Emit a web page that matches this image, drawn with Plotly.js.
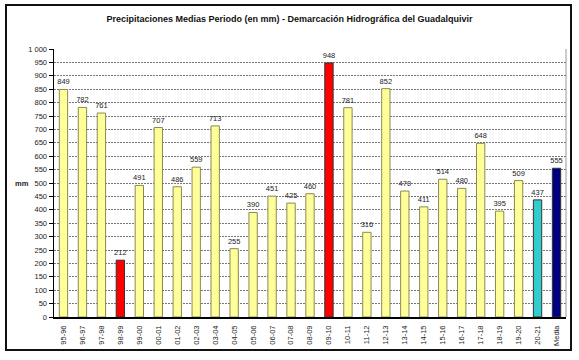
<!DOCTYPE html>
<html>
<head>
<meta charset="utf-8">
<script src="https://cdn.plot.ly/plotly-3.0.1.min.js"></script>
<style>
html,body{margin:0;padding:0;background:#fff;}
#chart{width:579px;height:360px;}
</style>
</head>
<body>
<div id="chart"></div>
<script>
const categories = ["95-96","96-97","97-98","98-99","99-00","00-01","01-02","02-03","03-04","04-05","05-06","06-07","07-08","08-09","09-10","10-11","11-12","12-13","13-14","14-15","15-16","16-17","17-18","18-19","19-20","20-21","Media"];
const values = [849,782,761,212,491,707,486,559,713,255,390,451,425,460,948,781,316,852,470,411,514,480,648,395,509,437,555];
const yTicks = [0,50,100,150,200,250,300,350,400,450,500,550,600,650,700,750,800,850,900,950,1000];

const fills = categories.map((c,i) => {
  if (c === "Media") return "#000080";
  if (c === "20-21") return "#33CCCC";
  if (values[i] === Math.min(...values.slice(0,25)) || values[i] === Math.max(...values.slice(0,25))) return "#FF0000";
  return "#FFFF99";
});
const outlines = fills.map(f => f === "#FFFF99" ? "#8A8A50" : "#333333");

const font = "Liberation Sans, Arial, sans-serif";
const L = 54, R = 566, T = 49, B = 317, W = 579, H = 360;
const px = x => (x - L) / (R - L);
const py = y => (B - y) / (B - T);

const trace = {
  type: "bar",
  x: categories,
  y: values,
  text: values.map(String),
  textposition: "outside",
  constraintext: "none",
  cliponaxis: false,
  textfont: {family: font, size: 7.5, color: "#222"},
  marker: {color: fills, line: {color: outlines, width: 1}},
  hoverinfo: "x+y"
};

const layout = {
  width: W, height: H,
  margin: {l: L, r: W - R, t: T, b: H - B, pad: 0},
  paper_bgcolor: "#fff",
  plot_bgcolor: "#fff",
  bargap: 0.56,
  showlegend: false,
  font: {family: font, size: 7.5, color: "#222"},
  title: {
    text: "<b>Precipitaciones Medias Periodo (en mm) - Demarcación Hidrográfica del Guadalquivir</b>",
    font: {family: font, size: 9, color: "#111"},
    x: 0.5, xanchor: "center", y: 1 - 19 / H, yanchor: "middle"
  },
  xaxis: {
    type: "category",
    tickangle: -90,
    tickfont: {family: font, size: 7.5, color: "#222"},
    showline: true, linecolor: "#000", linewidth: 1.5,
    ticks: "", showgrid: false, zeroline: false,
    ticklabelstandoff: 4
  },
  yaxis: {
    range: [0, 1000],
    tickvals: yTicks,
    ticktext: yTicks.map(v => v === 1000 ? "1 000" : String(v)),
    tickfont: {family: font, size: 7.5, color: "#222"},
    showline: true, linecolor: "#000", linewidth: 1.5,
    ticks: "outside", ticklen: 4, tickcolor: "#000",
    showgrid: true, gridcolor: "#777", griddash: "2px,1px", gridwidth: 1,
    zeroline: false
  },
  annotations: [{
    text: "<b>mm</b>", xref: "paper", yref: "paper",
    x: px(22), y: py(183), xanchor: "center", yanchor: "middle",
    showarrow: false, font: {family: font, size: 7.5, color: "#222"}
  }],
  shapes: [
    {type: "rect", xref: "paper", yref: "paper", x0: px(6), x1: px(571), y0: py(350), y1: py(5),
     line: {color: "#111", width: 2}, fillcolor: "rgba(0,0,0,0)", layer: "above"},
    {type: "line", xref: "paper", yref: "paper", x0: 1, x1: 1, y0: 0, y1: 1,
     line: {color: "#999", width: 1}}
  ]
};

Plotly.newPlot("chart", [trace], layout, {displayModeBar: false, staticPlot: true});
</script>
</body>
</html>
